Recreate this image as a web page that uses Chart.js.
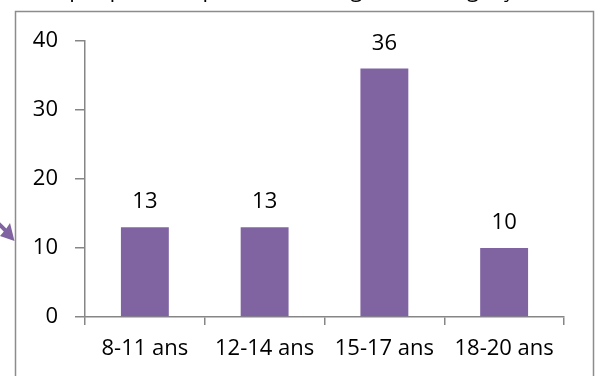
<!DOCTYPE html>
<html lang="fr">
<head>
<meta charset="utf-8">
<title>Répartition de l'âge chez les garçons</title>
<script src="https://cdn.jsdelivr.net/npm/chart.js@4/dist/chart.umd.min.js"></script>
<style>
  html, body { margin: 0; padding: 0; background: #ffffff; }
  #wrap { position: relative; width: 599px; height: 376px; overflow: hidden; }
  canvas { display: block; }
</style>
</head>
<body>
<div id="wrap"><canvas id="chart" width="599" height="376"></canvas></div>
<script>
// Age groups and number of boys in each
const categories = ['8-11 ans', '12-14 ans', '15-17 ans', '18-20 ans'];
const counts = [13, 13, 36, 10];
const yTicks = [0, 10, 20, 30, 40];
const titleText = "Graphique 3 : Répartition de l'âge chez les garçons";

const FONT = '"Open Sans", "DejaVu Sans", sans-serif';
const BAR_COLOR = '#8064A2';
const AXIS_COLOR = '#868686';
const FRAME_COLOR = '#8c8c8c';

// Frame around the chart, the clipped caption above it and the callout arrow on the left
const decorations = {
  id: 'decorations',
  beforeDraw(chart) {
    const ctx = chart.ctx;
    ctx.save();
    ctx.fillStyle = '#ffffff';
    ctx.fillRect(0, 0, chart.width, chart.height);

    // caption, mostly above the visible area
    ctx.fillStyle = '#000000';
    ctx.font = '22px ' + FONT;
    ctx.textAlign = 'center';
    ctx.textBaseline = 'alphabetic';
    ctx.fillText(titleText, 290, -3);

    // frame
    ctx.strokeStyle = FRAME_COLOR;
    ctx.lineWidth = 1.5;
    ctx.beginPath();
    ctx.moveTo(15.5, chart.height + 2);
    ctx.lineTo(15.5, 11.5);
    ctx.lineTo(593.5, 11.5);
    ctx.lineTo(593.5, chart.height + 2);
    ctx.stroke();

    // callout arrow
    ctx.strokeStyle = BAR_COLOR;
    ctx.fillStyle = BAR_COLOR;
    ctx.lineWidth = 4;
    ctx.beginPath();
    ctx.moveTo(-4, 221);
    ctx.lineTo(9, 234);
    ctx.stroke();
    ctx.beginPath();
    ctx.moveTo(14.5, 241);
    ctx.lineTo(0, 236);
    ctx.lineTo(6, 229);
    ctx.lineTo(10, 223);
    ctx.closePath();
    ctx.fill();
    ctx.restore();
  }
};

// Value written above each bar
const valueLabels = {
  id: 'valueLabels',
  afterDatasetsDraw(chart) {
    const ctx = chart.ctx;
    const meta = chart.getDatasetMeta(0);
    ctx.save();
    ctx.fillStyle = '#000000';
    ctx.font = '22px ' + FONT;
    ctx.textAlign = 'center';
    ctx.textBaseline = 'alphabetic';
    meta.data.forEach((bar, i) => {
      ctx.fillText(String(counts[i]), bar.x, bar.y - 19);
    });
    ctx.restore();
  }
};

new Chart(document.getElementById('chart'), {
  type: 'bar',
  data: {
    labels: categories,
    datasets: [{
      data: counts,
      backgroundColor: BAR_COLOR,
      borderWidth: 0,
      categoryPercentage: 1.0,
      barPercentage: 0.4
    }]
  },
  options: {
    responsive: false,
    animation: false,
    devicePixelRatio: 1,
    layout: { padding: { left: 15, top: 41, right: 35, bottom: 0 } },
    plugins: {
      legend: { display: false },
      tooltip: { enabled: false },
      title: { display: false }
    },
    scales: {
      x: {
        offset: true,
        grid: {
          display: true,
          offset: true,
          drawOnChartArea: false,
          drawTicks: true,
          tickLength: 8,
          color: AXIS_COLOR,
          lineWidth: 1.5
        },
        border: { display: true, color: AXIS_COLOR, width: 1.5 },
        ticks: {
          color: '#000000',
          font: { family: FONT, size: 22 },
          padding: 11,
          maxRotation: 0,
          autoSkip: false
        },
        afterFit(scale) { scale.height = 59; }
      },
      y: {
        min: 0,
        max: 40,
        afterBuildTicks(scale) { scale.ticks = yTicks.map(v => ({ value: v })); },
        grid: {
          display: true,
          drawOnChartArea: false,
          drawTicks: true,
          tickLength: 10,
          color: AXIS_COLOR,
          lineWidth: 1.5
        },
        border: { display: true, color: AXIS_COLOR, width: 1.5 },
        ticks: {
          color: '#000000',
          font: { family: FONT, size: 22 },
          padding: 17
        },
        afterFit(scale) { scale.width = 70; }
      }
    }
  },
  plugins: [decorations, valueLabels]
});
</script>
</body>
</html>
